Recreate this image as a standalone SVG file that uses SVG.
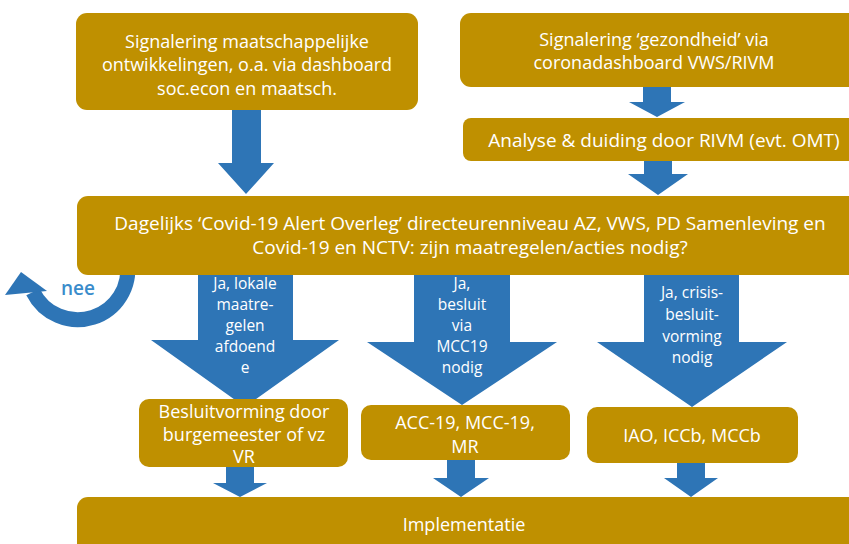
<svg xmlns="http://www.w3.org/2000/svg" width="849" height="544" viewBox="0 0 849 544">
<style>
.box{fill:#BF9000}
.arr{fill:#2E75B6}
.t{font-family:"Open Sans","Liberation Sans",sans-serif;font-size:18px;fill:#FFFFFF;text-anchor:middle}
.tl{font-size:19px}
.ta{font-family:"Open Sans","Liberation Sans",sans-serif;font-size:15.5px;fill:#FFFFFF;text-anchor:middle}
.nee{font-family:"Open Sans","Liberation Sans",sans-serif;font-size:19px;font-weight:600;fill:#3A8CCB;text-anchor:middle}
</style>
<rect width="849" height="544" fill="#FFFFFF"/>
<g id="connectors">
  <path class="arr" d="M232,108 H261 V163 H274 L246,194 L218,163 H232 Z"/>
  <path class="arr" d="M643,85 H671 V102 H685 L657,117 L629,102 H643 Z"/>
  <path class="arr" d="M644,159 H672 V174 H688 L658,195 L628,174 H644 Z"/>
  <g id="nee-loop">
    <path d="M127.2,262.3 A50,50 0 0 1 33,292" fill="none" stroke="#2E75B6" stroke-width="15"/>
    <polygon class="arr" points="21,272 5,295 47,291"/>
    <text class="nee" x="78" y="295">nee</text>
  </g>
  <g id="arrow-lokaal">
    <path class="arr" d="M198,270 H293 V340 H339 L245,407 L151,340 H198 Z"/>
    <text class="ta" x="245" y="289">Ja, lokale</text>
    <text class="ta" x="245" y="310">maatre-</text>
    <text class="ta" x="245" y="331">gelen</text>
    <text class="ta" x="245" y="352">afdoend</text>
    <text class="ta" x="245" y="373">e</text>
  </g>
  <g id="arrow-mcc">
    <path class="arr" d="M414,270 H510 V342 H557 L462,405 L367,342 H414 Z"/>
    <text class="ta" x="462" y="289">Ja,</text>
    <text class="ta" x="462" y="310">besluit</text>
    <text class="ta" x="462" y="331">via</text>
    <text class="ta" x="462" y="352">MCC19</text>
    <text class="ta" x="462" y="373">nodig</text>
  </g>
  <g id="arrow-crisis">
    <path class="arr" d="M644,270 H739 V342 H787 L692,407 L597,342 H644 Z"/>
    <text class="ta" x="692" y="298">Ja, crisis-</text>
    <text class="ta" x="692" y="320">besluit-</text>
    <text class="ta" x="692" y="342">vorming</text>
    <text class="ta" x="692" y="363">nodig</text>
  </g>
  <path class="arr" d="M226,465 H254 V483 H267 L240,497 L213,483 H226 Z"/>
  <path class="arr" d="M447,458 H475 V478 H489 L461,497 L433,478 H447 Z"/>
  <path class="arr" d="M677,461 H705 V478 H718 L691,497 L664,478 H677 Z"/>
</g>
<g id="signalering-maatschappelijk">
  <rect class="box" x="76" y="13" width="342" height="97" rx="11"/>
  <text class="t" x="247" y="48">Signalering maatschappelijke</text>
  <text class="t" x="247" y="71">ontwikkelingen, o.a. via dashboard</text>
  <text class="t" x="247" y="95">soc.econ en maatsch.</text>
</g>
<g id="signalering-gezondheid">
  <rect class="box" x="460" y="13" width="400" height="74" rx="11"/>
  <text class="t" x="654" y="46">Signalering ‘gezondheid’ via</text>
  <text class="t" x="654" y="69">coronadashboard VWS/RIVM</text>
</g>
<g id="analyse">
  <rect class="box" x="463" y="118" width="400" height="43" rx="8"/>
  <text class="t tl" x="664" y="147">Analyse &amp; duiding door RIVM (evt. OMT)</text>
</g>
<g id="alert-overleg">
  <rect class="box" x="77" y="196" width="783" height="79" rx="11"/>
  <text class="t tl" x="470" y="230">Dagelijks ‘Covid-19 Alert Overleg’ directeurenniveau AZ, VWS, PD Samenleving en</text>
  <text class="t tl" x="470" y="254">Covid-19 en NCTV: zijn maatregelen/acties nodig?</text>
</g>
<g id="burgemeester">
  <rect class="box" x="139" y="399" width="209" height="68" rx="10"/>
  <text class="t" x="244" y="418">Besluitvorming door</text>
  <text class="t" x="244" y="441">burgemeester of vz</text>
  <text class="t" x="244" y="463">VR</text>
</g>
<g id="acc-mcc-mr">
  <rect class="box" x="361" y="405" width="209" height="55" rx="10"/>
  <text class="t" x="465" y="429">ACC-19, MCC-19,</text>
  <text class="t" x="465" y="453">MR</text>
</g>
<g id="iao">
  <rect class="box" x="587" y="407" width="211" height="56" rx="10"/>
  <text class="t" x="692" y="442">IAO, ICCb, MCCb</text>
</g>
<g id="implementatie">
  <rect class="box" x="77" y="497" width="783" height="60" rx="11"/>
  <text class="t" x="464" y="531">Implementatie</text>
</g>
</svg>
